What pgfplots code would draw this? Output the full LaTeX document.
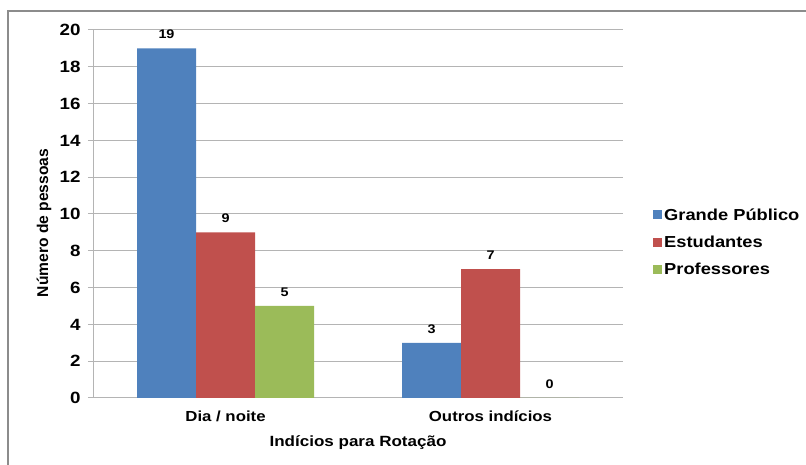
\documentclass[border=0pt]{standalone}
\usepackage{fontspec}
\setmainfont{Liberation Sans}[FakeStretch=1.15]
\newfontfamily\yfont{Liberation Sans}
\usepackage{pgfplots}
\pgfplotsset{compat=1.18}
\definecolor{cBlue}{HTML}{4F81BD}
\definecolor{cRed}{HTML}{C0504D}
\definecolor{cGreen}{HTML}{9BBB59}
\definecolor{cFrame}{HTML}{8C8C8C}
\definecolor{cGrid}{HTML}{B4B4B4}
\begin{document}
\begin{tikzpicture}[x=1pt,y=1pt]
\useasboundingbox (0,0) rectangle (806,465);
\draw[cFrame, line width=1.5pt] (8,0) -- (8,454) -- (806,454);
\begin{axis}[
  at={(93pt,67pt)}, anchor=south west,
  scale only axis, width=530pt, height=368pt,
  ymin=0, ymax=20, ytick={0,2,...,20},
  xmin=-0.5, xmax=1.5, xtick={0,1},
  xticklabels={Dia / noite, Outros indícios},
  ybar=0pt, bar width=59pt,
  axis x line*=bottom, axis y line*=left,
  axis line style={cGrid, line width=1pt},
  tick align=outside, major tick length=5pt,
  x tick style={draw=none},
  y tick style={cGrid, line width=1pt},
  ymajorgrids, grid style={cGrid, line width=1pt},
  /pgf/number format/assume math mode=true,
  yticklabel style={font=\fontsize{16.3}{18}\selectfont\bfseries, xshift=-4pt},
  xticklabel style={font=\fontsize{14.6}{17}\selectfont\bfseries, yshift=-4pt},
  xlabel={Indícios para Rotação},
  xlabel style={font=\fontsize{14.8}{17}\selectfont\bfseries, at={(axis description cs:0.5,-0.12)}, anchor=center},
  ylabel={\yfont Número de pessoas},
  ylabel style={font=\fontsize{15.6}{17}\selectfont\bfseries, at={(axis description cs:-0.0925,0.4755)}, anchor=center, rotate=0},
  nodes near coords,
  nodes near coords style={font=\fontsize{12.5}{14}\selectfont\bfseries, text=black, yshift=6pt},
  legend style={at={(1.051,0.424)}, anchor=west, draw=none, fill=none,
    font=\fontsize{15.9}{18}\selectfont\bfseries, row sep=10pt},
  legend cell align=left,
  legend image code/.code={\fill[#1] (0pt,-4.5pt) rectangle (9pt,4.5pt);},
]
\addplot[fill=cBlue, draw=none] coordinates {(0,19) (1,3)};
\addplot[fill=cRed, draw=none] coordinates {(0,9) (1,7)};
\addplot[fill=cGreen, draw=none] coordinates {(0,5) (1,0)};
\legend{Grande Público, Estudantes, Professores}
\end{axis}
\end{tikzpicture}
\end{document}
